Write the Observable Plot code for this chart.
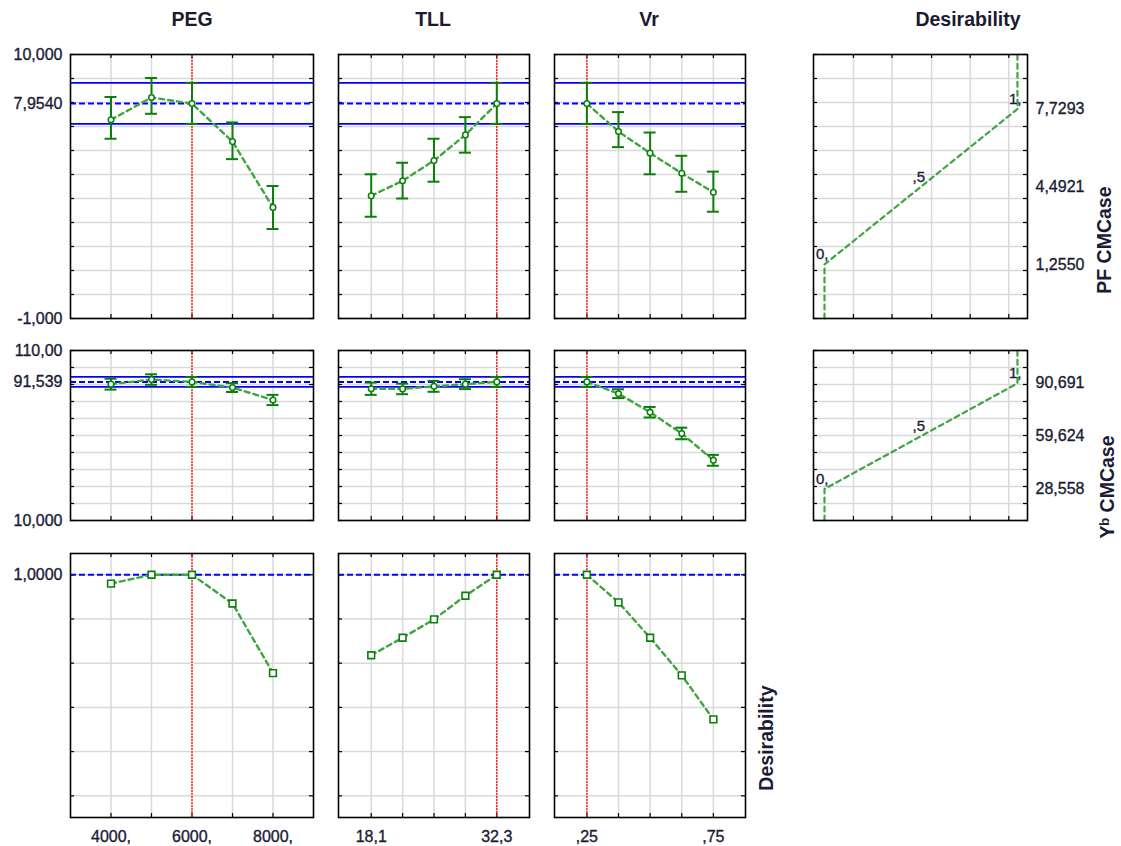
<!DOCTYPE html>
<html><head><meta charset="utf-8">
<script src="https://cdn.jsdelivr.net/npm/d3@7"></script>
<script src="https://cdn.jsdelivr.net/npm/@observablehq/plot@0.6"></script>
<style>
body{margin:0;background:#fff;}
#chart{position:relative;width:1121px;height:846px;background:#fff;overflow:hidden;font-family:"Liberation Sans",Arial,Helvetica,sans-serif;}
.hdr{position:absolute;top:10px;font-weight:bold;font-size:19.5px;line-height:19.5px;color:#1b1b30;transform:translateX(-50%);white-space:nowrap;}
</style></head><body><div id="chart"></div>
<script>
// ---------------- data ----------------
const headers = ["PEG", "TLL", "Vr", "Desirability"];
const responseTitles = ["PF CMCase", "Yᵇ CMCase"];
const desTitle = "Desirability";

const pegLevels = [4000, 5000, 6000, 7000, 8000];
const tllLevels = [18.1, 21.65, 25.2, 28.75, 32.3];
const vrLevels = [0.25, 0.375, 0.5, 0.625, 0.75];
const currentSetting = [6000, 32.3, 0.25];

const pegTickVals = [4000, 6000, 8000];
const pegTickText = ["4000,", "6000,", "8000,"];
const tllTickVals = [18.1, 32.3];
const tllTickText = ["18,1", "32,3"];
const vrTickVals = [0.25, 0.75];
const vrTickText = [",25", ",75"];

// PF CMCase profiles (mean, lower, upper)
const pfPEG = [7.28, 8.21, 7.954, 6.37, 3.63];
const pfPEGLo = [6.49, 7.53, 7.11, 5.64, 2.73];
const pfPEGHi = [8.23, 9.02, 8.82, 7.17, 4.52];
const pfTLL = [4.11, 4.74, 5.58, 6.65, 7.954];
const pfTLLLo = [3.24, 4.00, 4.70, 5.91, 7.11];
const pfTLLHi = [5.01, 5.49, 6.49, 7.39, 8.82];
const pfVr = [7.954, 6.79, 5.89, 5.05, 4.26];
const pfVrLo = [7.11, 6.14, 5.01, 4.28, 3.45];
const pfVrHi = [8.82, 7.60, 6.75, 5.78, 5.12];
const pfPred = 7.954, pfCI = [7.11, 8.82];

// Yb CMCase profiles
const yPEG = [90.2, 92.9, 91.539, 88.2, 80.9];
const yPEGLo = [87.0, 89.8, 88.63, 85.6, 77.9];
const yPEGHi = [93.4, 96.0, 94.45, 90.8, 83.9];
const yTLL = [87.5, 87.4, 88.9, 90.2, 91.539];
const yTLLLo = [83.9, 84.3, 85.7, 87.3, 88.63];
const yTLLHi = [91.1, 90.5, 92.1, 93.1, 94.45];
const yVr = [91.539, 84.6, 73.7, 61.2, 45.4];
const yVrLo = [88.63, 82.0, 70.6, 57.8, 42.2];
const yVrHi = [94.45, 87.2, 76.8, 64.6, 48.6];
const yPred = 91.539, yCI = [88.63, 94.45];

// overall desirability profiles
const desPEG = [0.96, 1.0, 1.0, 0.87, 0.555];
const desTLL = [0.636, 0.715, 0.798, 0.905, 1.0];
const desVr = [1.0, 0.875, 0.715, 0.545, 0.346];
const desCurrent = 1.0;

// desirability functions
const desKnots = [0, 0.5, 1];
const desKnotText = ["0,", ",5", "1,"];
const pfDesValues = [1.255, 4.4921, 7.7293];
const pfDesText = ["1,2550", "4,4921", "7,7293"];
const yDesValues = [28.558, 59.624, 90.691];
const yDesText = ["28,558", "59,624", "90,691"];

// axes
const pfDomain = [-1, 10], pfTicks = [-1, 0, 1, 2, 3, 4, 5, 6, 7, 8, 9, 10];
const pfLabVals = [10, 7.954, -1], pfLabText = ["10,000", "7,9540", "-1,000"];
const yDomain = [10, 110], yTicks = [10, 20, 30, 40, 50, 60, 70, 80, 90, 100, 110];
const yLabVals = [110, 91.539, 10], yLabText = ["110,00", "91,539", "10,000"];
const dDomain = [-0.098, 1.096], dTicks = [0, 0.2, 0.4, 0.6, 0.8, 1.0];
const dLabVals = [1], dLabText = ["1,0000"];
const desXDomain = [-0.057, 1.052], desGridX = [0.15, 0.35, 0.555, 0.755, 0.955];

// ---------------- layout / style ----------------
const FONT = '"Liberation Sans", Arial, Helvetica, sans-serif';
const TXT = "#1b1b36", GRID = "#d9d9d9", GREEN = "#0a800a", LGREEN = "#3fa53f";
const DASH = "5,4";
const colX = [[70, 313], [338, 529], [554, 745], [813, 1027]];
const rowY = [[54, 318], [350, 520], [553, 817]];
const headerX = [192, 433, 649, 968];
const chart = document.getElementById("chart");

headers.forEach((h, i) => {
  const d = document.createElement("div");
  d.className = "hdr"; d.textContent = h; d.style.left = headerX[i] + "px";
  chart.appendChild(d);
});

function addPanel(r, c, opts, makeMarks) {
  const [x0, x1] = colX[c], [y0, y1] = rowY[r];
  const w = x1 - x0, h = y1 - y0;
  const mL = opts.l ?? 4, mR = opts.r ?? 4, mT = opts.t ?? 4, mB = opts.b ?? 4;
  const svg = Plot.plot({
    width: w + mL + mR, height: h + mT + mB,
    marginLeft: mL, marginRight: mR, marginTop: mT, marginBottom: mB,
    x: {domain: opts.xd, axis: null},
    y: {domain: opts.yd, axis: null},
    style: {fontFamily: FONT, fontSize: "16px", color: TXT, background: "transparent", overflow: "visible"},
    marks: makeMarks(w, h)
  });
  svg.style.position = "absolute";
  svg.style.left = (x0 - mL) + "px";
  svg.style.top = (y0 - mT) + "px";
  chart.appendChild(svg);
}

function baseMarks(w, h, xGrid, yGrid) {
  return [
    Plot.ruleX(xGrid, {x: d => d, stroke: GRID, strokeWidth: 1.5}),
    Plot.ruleY(yGrid, {y: d => d, stroke: GRID, strokeWidth: 1.5}),
    Plot.tickY(yGrid, {y: d => d, insetRight: w - 4, stroke: "#000", strokeWidth: 1.2}),
    Plot.tickY(yGrid, {y: d => d, insetLeft: w - 4, stroke: "#000", strokeWidth: 1.2}),
    Plot.tickX(xGrid, {x: d => d, insetTop: h - 4, stroke: "#000", strokeWidth: 1.2}),
    Plot.tickX(xGrid, {x: d => d, insetBottom: h - 4, stroke: "#000", strokeWidth: 1.2})
  ];
}

const labelStyle = {fontSize: 16, fill: TXT, stroke: TXT, strokeWidth: 0.35};
function leftLabels(vals, text) {
  return Plot.text(vals, {y: d => d, frameAnchor: "left", textAnchor: "end", dx: -8,
    text: (d, i) => text[i], ...labelStyle});
}
function rightLabels(vals, text) {
  return Plot.text(vals, {y: d => d, frameAnchor: "right", textAnchor: "start", dx: 8,
    text: (d, i) => text[i], ...labelStyle});
}
function bottomLabels(vals, text) {
  return Plot.text(vals, {x: d => d, frameAnchor: "bottom", lineAnchor: "top", dy: 13,
    text: (d, i) => text[i], ...labelStyle});
}
function rotTitle(t, dx) {
  return Plot.text([t], {frameAnchor: "right", rotate: -90, dx, text: d => d,
    fontSize: 19.5, fontWeight: "bold", fill: TXT, lineAnchor: "middle"});
}

const factorLevels = [pegLevels, tllLevels, vrLevels];
const factorXDomains = [[3000, 9000], [14.4, 36.0], [0.122, 0.877]];
const tickVals = [pegTickVals, tllTickVals, vrTickVals];
const tickText = [pegTickText, tllTickText, vrTickText];

const pfSeries = [[pfPEG, pfPEGLo, pfPEGHi], [pfTLL, pfTLLLo, pfTLLHi], [pfVr, pfVrLo, pfVrHi]];
const ySeries = [[yPEG, yPEGLo, yPEGHi], [yTLL, yTLLLo, yTLLHi], [yVr, yVrLo, yVrHi]];
const desSeries = [desPEG, desTLL, desVr];

function responsePanel(r, c, series, domain, ticks, pred, ci, labVals, labText) {
  const lv = factorLevels[c];
  const rows = lv.map((x, i) => ({x, y: series[0][i], lo: series[1][i], hi: series[2][i]}));
  addPanel(r, c, {xd: factorXDomains[c], yd: domain, l: c === 0 ? 70 : 4}, (w, h) => [
    ...baseMarks(w, h, lv, ticks),
    Plot.ruleY(ci, {y: d => d, stroke: "#0000ff", strokeWidth: 1.8}),
    Plot.ruleY([pred], {y: d => d, stroke: "#0000ff", strokeWidth: 2, strokeDasharray: "6,3"}),
    Plot.ruleX([currentSetting[c]], {x: d => d, stroke: "#ff1010", strokeWidth: 1.3, strokeDasharray: "2,1"}),
    Plot.line(rows, {x: "x", y: "y", stroke: LGREEN, strokeWidth: 2.4, strokeDasharray: DASH}),
    Plot.ruleX(rows, {x: "x", y1: "lo", y2: "hi", stroke: GREEN, strokeWidth: 2}),
    Plot.ruleY(rows, {y: "lo", x1: "x", x2: "x", insetLeft: -6, insetRight: -6, stroke: GREEN, strokeWidth: 2}),
    Plot.ruleY(rows, {y: "hi", x1: "x", x2: "x", insetLeft: -6, insetRight: -6, stroke: GREEN, strokeWidth: 2}),
    Plot.dot(rows, {x: "x", y: "y", r: 2.8, stroke: GREEN, fill: "white", strokeWidth: 1.5}),
    Plot.frame({stroke: "#000", strokeWidth: 1.6}),
    ...(c === 0 ? [leftLabels(labVals, labText)] : [])
  ]);
}

for (let c = 0; c < 3; c++) {
  responsePanel(0, c, pfSeries[c], pfDomain, pfTicks, pfPred, pfCI, pfLabVals, pfLabText);
  responsePanel(1, c, ySeries[c], yDomain, yTicks, yPred, yCI, yLabVals, yLabText);
  const lv = factorLevels[c];
  const rows = lv.map((x, i) => ({x, y: desSeries[c][i]}));
  addPanel(2, c, {xd: factorXDomains[c], yd: dDomain, l: c === 0 ? 70 : 4, b: 30, r: c === 2 ? 40 : 4}, (w, h) => [
    ...baseMarks(w, h, lv, dTicks),
    Plot.ruleY([desCurrent], {y: d => d, stroke: "#0000ff", strokeWidth: 2, strokeDasharray: "6,3"}),
    Plot.ruleX([currentSetting[c]], {x: d => d, stroke: "#ff1010", strokeWidth: 1.3, strokeDasharray: "2,1"}),
    Plot.line(rows, {x: "x", y: "y", stroke: LGREEN, strokeWidth: 2.4, strokeDasharray: DASH}),
    Plot.dot(rows, {x: "x", y: "y", symbol: "square", r: 3.8, stroke: GREEN, fill: "white", strokeWidth: 1.6}),
    Plot.frame({stroke: "#000", strokeWidth: 1.6}),
    bottomLabels(tickVals[c], tickText[c]),
    ...(c === 0 ? [leftLabels(dLabVals, dLabText)] : []),
    ...(c === 2 ? [rotTitle(desTitle, 21)] : [])
  ]);
}

function desPanel(r, domain, ticks, values, text, title, titleDx) {
  const curve = [
    {d: desKnots[0], v: domain[0]},
    ...desKnots.map((d, i) => ({d, v: values[i]})),
    {d: desKnots[desKnots.length - 1], v: domain[1]}
  ];
  const knots = desKnots.map((d, i) => ({d, v: values[i], t: desKnotText[i]}));
  addPanel(r, 3, {xd: desXDomain, yd: domain, r: 100}, (w, h) => [
    ...baseMarks(w, h, desGridX, ticks),
    Plot.line(curve, {x: "d", y: "v", stroke: LGREEN, strokeWidth: 2.2, strokeDasharray: DASH}),
    Plot.text(knots, {x: "d", y: "v", text: "t", textAnchor: "end", lineAnchor: "bottom", dx: 4, dy: -5, ...labelStyle, fontSize: 15}),
    Plot.frame({stroke: "#000", strokeWidth: 1.6}),
    rightLabels(values, text),
    rotTitle(title, titleDx)
  ]);
}
desPanel(0, pfDomain, pfTicks, pfDesValues, pfDesText, responseTitles[0], 77);
desPanel(1, yDomain, yTicks, yDesValues, yDesText, responseTitles[1], 80);
</script></body></html>
